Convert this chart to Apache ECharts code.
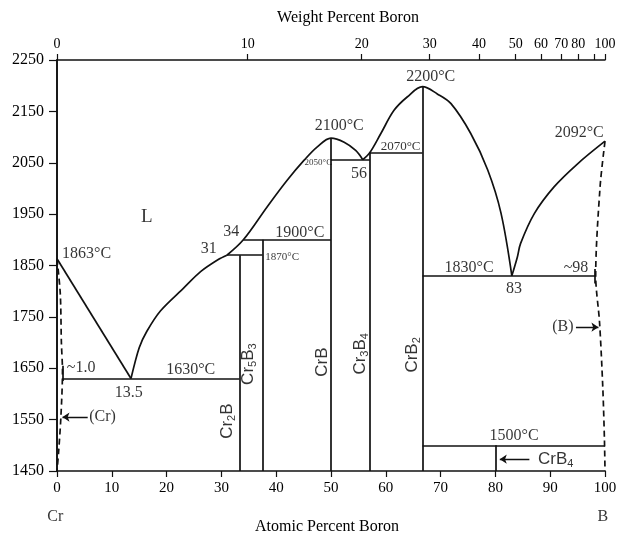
<!DOCTYPE html>
<html lang="en">
<head>
<meta charset="UTF-8">
<title>Cr-B Phase Diagram</title>
<script src="https://cdn.jsdelivr.net/npm/echarts@6/dist/echarts.min.js"></script>
<style>
  html, body { margin: 0; padding: 0; background: #fff; }
  #chart { width: 633px; height: 534px; }
</style>
</head>
<body>
<div id="chart"></div>
<script>
// tick values
const tempTicks = [1450, 1550, 1650, 1750, 1850, 1950, 2050, 2150, 2250];
const weightTickAt = [0, 34.8, 55.6, 68.0, 77.0, 83.7, 88.3, 92.0, 95.1, 98.0, 100];
const weightTickText = ['0', '10', '20', '30', '40', '50', '60', '70', '80', '', '100'];

// liquidus curves [at.% B, temperature]
const liqCrSide = [[0, 1863], [13.5, 1630]];
const liqCr2B = [[13.5, 1630], [15.0, 1690], [16.4, 1722], [18.9, 1762], [23.1, 1806], [26.2, 1838],
  [29.5, 1862], [31, 1870]];
const liqCrB = [[31, 1870], [34, 1900], [38.4, 1965], [42.0, 2016], [45.1, 2055], [47.5, 2081],
  [50, 2098], [52.4, 2090], [54.5, 2074], [55.8, 2056]];
const liqCrB2 = [[55.8, 2056], [57.1, 2070], [59.1, 2107], [61.5, 2152], [63.9, 2178], [66.7, 2198],
  [69.4, 2184], [71.9, 2165], [75.5, 2107], [78.6, 2036], [81.0, 1953], [83, 1830]];
const liqBSide = [[83, 1830], [84.0, 1866], [84.6, 1893], [87.1, 1951], [90.7, 2003], [95.0, 2048], [100, 2092]];

// dashed solvus lines
const crSolvus = [[0, 1863], [0.6, 1795], [0.8, 1700], [1.0, 1645], [0.7, 1553], [0.3, 1488], [0, 1450]];
const bSolvus = [[100, 2092], [99.1, 2003], [98.3, 1830], [99.0, 1740], [99.6, 1612], [99.9, 1510], [100, 1450]];

// straight solid lines (isotherms and compounds)
const solidSegments = [
  [[1.0, 1630], [33.3, 1630]],
  [[1.0, 1625], [1.0, 1655]],
  [[31, 1870], [37.5, 1870]],
  [[34, 1900], [50, 1900]],
  [[50, 2056], [57.1, 2056]],
  [[57.1, 2070], [66.7, 2070]],
  [[66.7, 1830], [98.2, 1830]],
  [[98.2, 1815], [98.2, 1843]],
  [[66.7, 1500], [100, 1500]],
  [[33.3, 1450], [33.3, 1870]],
  [[37.5, 1450], [37.5, 1900]],
  [[50, 1450], [50, 2098]],
  [[57.1, 1450], [57.1, 2070]],
  [[66.7, 1450], [66.7, 2198]],
  [[80, 1450], [80, 1500]]
];

const arrows = [
  [[5.6, 1555], [1.0, 1555]],
  [[94.7, 1730], [98.8, 1730]],
  [[86.2, 1473], [80.8, 1473]]
];

// labels [x, T, text]
const mainLabels = [
  [5.4, 1872, '1863°C'], [27.7, 1882, '31'], [31.8, 1915, '34'], [44.3, 1913, '1900°C'],
  [51.5, 2121, '2100°C'], [55.1, 2029, '56'], [68.2, 2218, '2200°C'], [95.3, 2108, '2092°C'],
  [75.2, 1845, '1830°C'], [94.7, 1846, '~98'], [83.4, 1805, '83'], [92.3, 1730, '(B)'],
  [83.4, 1518, '1500°C'], [8.3, 1555, '(Cr)'], [4.4, 1650, '~1.0'], [13.1, 1602, '13.5'],
  [24.4, 1647, '1630°C']
];
const phaseLabels = [[16.4, 1945, 'L']];
const label2070 = [[62.7, 2081, '2070°C']];
const label1870 = [[41.1, 1867, '1870°C']];
const label2050 = [[47.7, 2050, '2050°C']];
const compoundLabels = [
  [31.1, 1547, 'Cr{s|2}B'], [35.0, 1658, 'Cr{s|5}B{s|3}'], [48.5, 1662, 'CrB'],
  [55.4, 1678, 'Cr{s|3}B{s|4}'], [64.9, 1676, 'CrB{s|2}']
];
const crB4Label = [[91.0, 1473, 'CrB{s|4}']];
const endLabels = [[-0.3, 1360, 'Cr'], [99.6, 1360, 'B']];

const serif = "'Liberation Serif', 'Times New Roman', serif";
const sans = "'Liberation Sans', Arial, sans-serif";
const ink = '#111';

function labelSeries(items, style) {
  return {
    type: 'scatter',
    symbolSize: 1,
    itemStyle: { color: 'transparent' },
    clip: false,
    silent: true,
    z: 5,
    data: items.map(d => ({ value: [d[0], d[1]], name: d[2] })),
    label: Object.assign({
      show: true,
      position: 'inside',
      color: '#000',
      fontFamily: serif,
      formatter: p => p.name
    }, style)
  };
}

const subRich = { s: { fontSize: 11, fontFamily: sans, color: '#000', verticalAlign: 'bottom' } };

function curve(data, smooth, dashed) {
  return {
    type: 'line',
    data: data,
    smooth: smooth,
    symbol: 'none',
    silent: true,
    lineStyle: { color: ink, width: 1.7, type: dashed ? [6, 4] : 'solid' }
  };
}

const chart = echarts.init(document.getElementById('chart'));

chart.setOption({
  animation: false,
  backgroundColor: '#fff',
  grid: { left: 57, right: 28, top: 60, bottom: 63, outerBoundsMode: 'none' },
  xAxis: [
    {
      type: 'value', position: 'bottom', min: 0, max: 100, interval: 10,
      name: 'Atomic Percent Boron', nameLocation: 'middle', nameGap: 48,
      nameTextStyle: { fontFamily: serif, fontSize: 16, color: '#000', padding: [0, 8, 0, 0] },
      axisLine: { lineStyle: { color: ink, width: 1.7 } },
      axisTick: { length: 6, lineStyle: { color: ink, width: 1.2 } },
      axisLabel: { fontFamily: serif, fontSize: 15, color: '#000', margin: 10 },
      splitLine: { show: false }
    },
    {
      type: 'value', position: 'top', min: 0, max: 100,
      name: 'Weight Percent Boron', nameLocation: 'middle', nameGap: 34,
      nameTextStyle: { fontFamily: serif, fontSize: 16, color: '#000', padding: [0, 0, 0, 34] },
      axisLine: { lineStyle: { color: ink, width: 1.5 } },
      axisTick: { length: 6, customValues: weightTickAt, lineStyle: { color: ink, width: 1.2 } },
      axisLabel: {
        fontFamily: serif, fontSize: 14, color: '#000', margin: 9,
        customValues: weightTickAt,
        formatter: v => weightTickText[weightTickAt.indexOf(v)] || ''
      },
      splitLine: { show: false }
    }
  ],
  yAxis: [
    {
      type: 'value', position: 'left', min: 1450, max: 2250,
      axisLine: { lineStyle: { color: ink, width: 1.7 } },
      axisTick: { length: 8, customValues: tempTicks, lineStyle: { color: ink, width: 1.2 } },
      axisLabel: {
        fontFamily: serif, fontSize: 16, color: '#000', margin: 13,
        customValues: tempTicks, formatter: v => String(v)
      },
      splitLine: { show: false }
    },
    {
      type: 'value', position: 'right', min: 1450, max: 2250,
      axisLine: { show: true, lineStyle: { color: ink, width: 1.5 } },
      axisTick: { show: false },
      axisLabel: { show: false },
      splitLine: { show: false }
    }
  ],
  series: [
    curve(liqCrSide, false, false),
    curve(liqCr2B, 0.3, false),
    curve(liqCrB, 0.35, false),
    curve(liqCrB2, 0.35, false),
    curve(liqBSide, 0.35, false),
    curve(crSolvus, 0.3, true),
    curve(bSolvus, 0.3, true),
    {
      type: 'lines',
      coordinateSystem: 'cartesian2d',
      silent: true,
      data: solidSegments.map(s => ({ coords: s })),
      lineStyle: { color: ink, width: 1.7, opacity: 1 }
    },
    {
      type: 'lines',
      coordinateSystem: 'cartesian2d',
      silent: true,
      symbol: ['none', 'arrow'],
      symbolSize: [0, 7],
      data: arrows.map(s => ({ coords: s })),
      lineStyle: { color: ink, width: 1.3, opacity: 1 }
    },
    labelSeries(mainLabels, { fontSize: 16 }),
    labelSeries(phaseLabels, { fontSize: 19 }),
    labelSeries(label2070, { fontSize: 13 }),
    labelSeries(label1870, { fontSize: 11 }),
    labelSeries(label2050, { fontSize: 9 }),
    labelSeries(compoundLabels, { fontSize: 17, fontFamily: sans, rotate: 90, lineHeight: 20, rich: subRich }),
    labelSeries(crB4Label, { fontSize: 17, fontFamily: sans, lineHeight: 20, rich: subRich }),
    labelSeries(endLabels, { fontSize: 16 })
  ]
});
</script>
</body>
</html>
